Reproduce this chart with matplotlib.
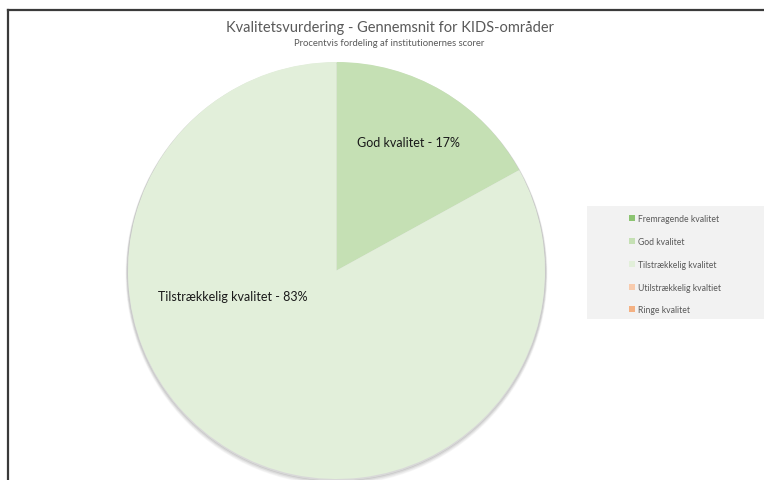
import matplotlib
matplotlib.use("Agg")
import matplotlib.pyplot as plt
from matplotlib.patches import Patch, Rectangle
from matplotlib.lines import Line2D

categories = ["Fremragende kvalitet", "God kvalitet", "Tilstrækkelig kvalitet",
              "Utilstrækkelig kvaltiet", "Ringe kvalitet"]
values = [0, 17, 83, 0, 0]
colors = ["#8cc472", "#c5e0b4", "#e2efda", "#f8cbad", "#f4b183"]
label_names = ["", "God kvalitet", "Tilstrækkelig kvalitet", "", ""]

plt.rcParams['font.family'] = ['Lato', 'DejaVu Sans']

W, H = 764, 481
fig = plt.figure(figsize=(W / 100, H / 100), dpi=100)
fig.patch.set_facecolor("white")

cx, cy, R = 336.5, 271.5, 208.5
ax = fig.add_axes([(cx - R) / W, (H - cy - R) / H, 2 * R / W, 2 * R / H])

wedges, _ = ax.pie(values, colors=colors, startangle=90, counterclock=False,
                   radius=1.0, wedgeprops=dict(linewidth=0))
for w in wedges:
    w.set_zorder(2)
ax.set_xlim(-1, 1)
ax.set_ylim(-1, 1)
ax.set_aspect("equal")
ax.axis("off")

# soft shadow (mostly below)
for i, a in enumerate([0.07, 0.05, 0.03]):
    c = plt.Circle((0.0, -0.008 - 0.004 * i), 1.0 + 0.003 * (i + 1), color="#000000",
                   alpha=a, zorder=0, clip_on=False)
    ax.add_patch(c)

label_pos = {"God kvalitet": (0.343, 0.616), "Tilstrækkelig kvalitet": (-0.496, -0.122)}
for name, v in zip(label_names, values):
    if name:
        x, y = label_pos[name]
        ax.text(x, y, f"{name} - {v}%", ha="center", va="center", fontsize=9,
                color="#1a1a1a", zorder=3)

fig.text(390 / W, 1 - 28 / H, "Kvalitetsvurdering - Gennemsnit for KIDS-områder",
         ha="center", va="center", fontsize=10.5, color="#595959")
fig.text(389 / W, 1 - 44 / H, "Procentvis fordeling af institutionernes scorer",
         ha="center", va="center", fontsize=6.8, color="#595959")

# border lines
fig.add_artist(Line2D([8 / W, 1.0], [1 - 11 / H, 1 - 11 / H], transform=fig.transFigure,
                      color="#3a3a3a", lw=1.6))
fig.add_artist(Line2D([8 / W, 8 / W], [0, 1 - 11 / H], transform=fig.transFigure,
                      color="#3a3a3a", lw=1.6))

# legend background
fig.add_artist(Rectangle((587 / W, 1 - 320 / H), (764 - 587) / W, (320 - 207) / H,
                         transform=fig.transFigure, facecolor="#f2f2f2",
                         edgecolor="none", zorder=0))

handles = [Patch(facecolor=c, edgecolor="none") for c in colors]
leg = fig.legend(handles, categories, loc="upper left",
                 bbox_to_anchor=(629 / W, 1 - 215 / H), fontsize=6.2,
                 frameon=False, handlelength=0.7, handleheight=0.7,
                 handletextpad=0.35, labelspacing=1.61, borderpad=0, borderaxespad=0,
                 labelcolor="#595959")

fig.savefig("out.png", dpi=100)
